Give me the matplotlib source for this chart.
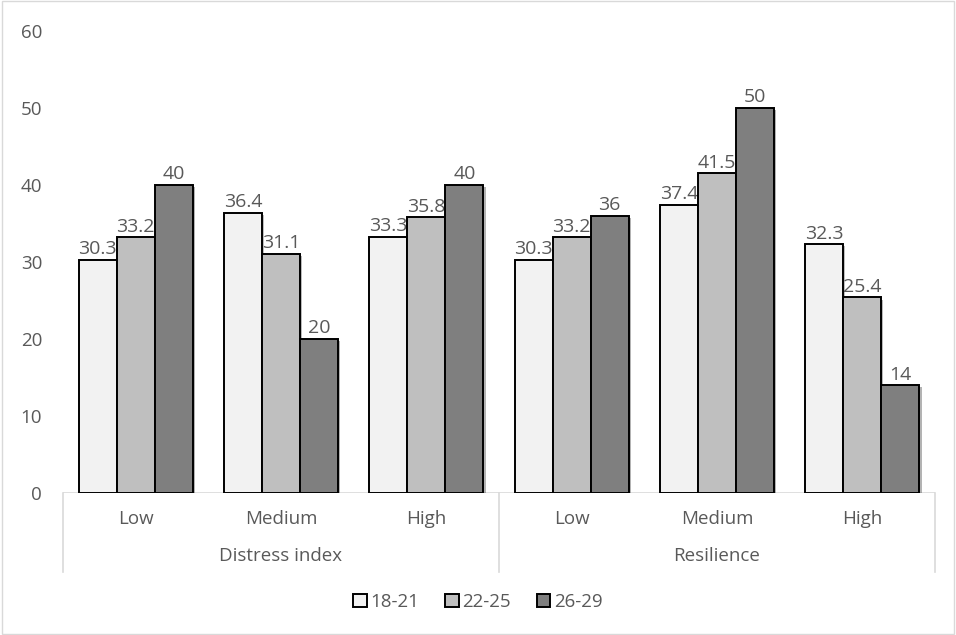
import matplotlib.pyplot as plt
import matplotlib.patches as mpatches
import matplotlib.patheffects as pe
import numpy as np

# age groups and their percentages per level
groups = ['Distress index', 'Resilience']
levels = ['Low', 'Medium', 'High', 'Low', 'Medium', 'High']
ages = ['18-21', '22-25', '26-29']
v_18_21 = [30.3, 36.4, 33.3, 30.3, 37.4, 32.3]
v_22_25 = [33.2, 31.1, 35.8, 33.2, 41.5, 25.4]
v_26_29 = [40, 20, 40, 36, 50, 14]

colors = ['#f2f2f2', '#bfbfbf', '#7f7f7f']
txt = '#595959'
fs = 13.5
plt.rcParams['font.family'] = ['Open Sans', 'DejaVu Sans']

fig = plt.figure(figsize=(9.56, 6.35), dpi=100)
ax = fig.add_axes([63/956, 142/635, 872/956, 462/635])

x = np.arange(len(levels)) + 0.5
w = 0.262
shadow = [pe.SimplePatchShadow(offset=(1.5, -1.5), alpha=0.35), pe.Normal()]
for i, (vals, c) in enumerate(zip([v_18_21, v_22_25, v_26_29], colors)):
    bars = ax.bar(x + (i - 1) * w, vals, w, color=c, edgecolor='black',
                  linewidth=1.4, label=ages[i], zorder=3)
    for b in bars:
        b.set_path_effects(shadow)
    for xi, v in zip(x + (i - 1) * w, vals):
        ax.text(xi, v + 0.2, f'{v:g}', ha='center', va='bottom',
                fontsize=fs + 0.5, color=txt)

ax.set_xlim(0, 6)
ax.set_ylim(0, 60)
ax.set_yticks(range(0, 61, 10))
ax.tick_params(axis='y', length=0, labelsize=fs, labelcolor=txt, pad=15)
ax.set_xticks([])
for s in ax.spines.values():
    s.set_visible(False)

# axis line and category separators
ax.axhline(0, color='#d9d9d9', lw=1.2, zorder=1)
for xs in [0, 3, 6]:
    ax.plot([xs, xs], [0, -0.17], transform=ax.get_xaxis_transform(),
            color='#d9d9d9', lw=1.2, clip_on=False)
for xi, lab in zip(x, levels):
    ax.text(xi, -0.056, lab, transform=ax.get_xaxis_transform(),
            ha='center', va='center', fontsize=fs, color=txt)
for gi, g in enumerate(groups):
    ax.text(1.5 + 3 * gi, -0.137, g, transform=ax.get_xaxis_transform(),
            ha='center', va='center', fontsize=fs, color=txt)

handles = [mpatches.Patch(facecolor=c, edgecolor='black', lw=1.4, label=a)
           for c, a in zip(colors, ages)]
fig.legend(handles=handles, loc='center', bbox_to_anchor=(0.5, 1 - 602/635),
           ncol=3, frameon=False, fontsize=fs, labelcolor=txt,
           handlelength=0.7, handleheight=0.7, handletextpad=0.2,
           columnspacing=1.4)

fig.patches.append(mpatches.Rectangle((0.002, 0.002), 0.996, 0.996,
                                      transform=fig.transFigure, fill=False,
                                      edgecolor='#d9d9d9', lw=1))
fig.savefig('out.png', dpi=100)
